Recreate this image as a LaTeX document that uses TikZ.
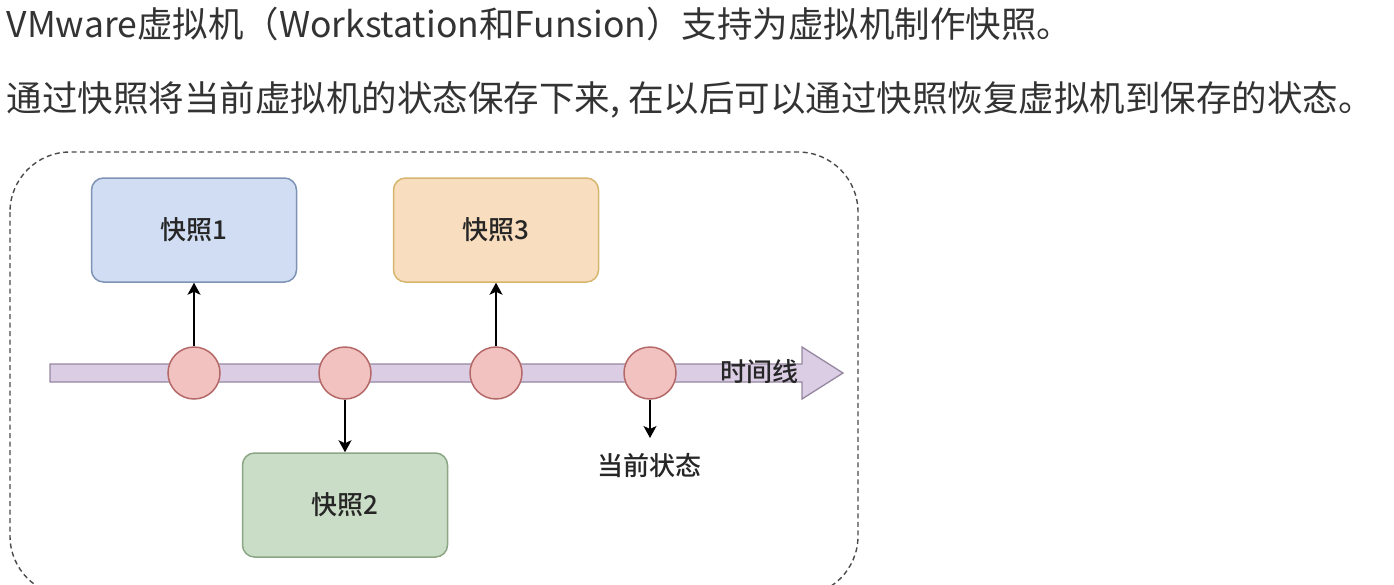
\documentclass[tikz,border=0pt]{standalone}
\usepackage{fontspec}
\setmainfont{Noto Sans CJK SC}
\newfontfamily\lblfont{Noto Sans CJK SC Medium}
\usetikzlibrary{arrows.meta}

\definecolor{framegray}{HTML}{4A4A4A}
\definecolor{barfill}{HTML}{DACDE4}
\definecolor{barline}{HTML}{9687A0}
\definecolor{pointfill}{HTML}{F2C2C0}
\definecolor{pointline}{HTML}{B46868}
\definecolor{bluefill}{HTML}{D0DDF2}
\definecolor{blueline}{HTML}{7F93B5}
\definecolor{greenfill}{HTML}{CADDC7}
\definecolor{greenline}{HTML}{8CA584}
\definecolor{orangefill}{HTML}{F8DDBE}
\definecolor{orangeline}{HTML}{D6B66E}

\begin{document}
\begin{tikzpicture}[x=1pt,y=-1pt,>={Stealth[length=12pt,width=13pt,inset=3pt]},line width=1.4pt,
  snapbox/.style={draw,rounded corners=12pt,minimum width=205pt,minimum height=104pt,
    font=\fontsize{26}{30}\lblfont,text=black!85,line width=1.5pt},
  point/.style={circle,draw=pointline,fill=pointfill,minimum size=52pt,inner sep=0pt,line width=1.5pt},
  lbl/.style={font=\fontsize{26}{30}\lblfont,text=black!85,inner sep=0pt},
  hdr/.style={anchor=west,inner sep=0pt,font=\fontsize{35.5}{42}\selectfont,text=black!80}]
  \useasboundingbox (0,0) rectangle (1394,584);
  \clip (0,0) rectangle (1394,584);

  % 标题文字
  \node[hdr] (t1) at (6,24) {VMware虚拟机（Workstation和Funsion）支持为虚拟机制作快照。};
  \node[hdr] (t2) at (6,100) {通过快照将当前虚拟机的状态保存下来, 在以后可以通过快照恢复虚拟机到保存的状态。};

  % 虚线外框
  \draw[framegray,dash pattern=on 5pt off 3.5pt,line width=1.4pt,rounded corners=60pt]
    (10,152) rectangle (858,596);

  % 时间线
  \draw[draw=barline,fill=barfill,line width=1.3pt]
    (50,364) -- (802,364) -- (802,347) -- (843,373) -- (802,399) -- (802,382) -- (50,382) -- cycle;
  \node[lbl] (tl) at (759,372) {时间线};

  % 时间点
  \node[point] (c1) at (194,373) {};
  \node[point] (c2) at (345,373) {};
  \node[point] (c3) at (496,373) {};
  \node[point] (c4) at (650,373) {};

  % 快照
  \node[snapbox,draw=blueline,fill=bluefill] (s1) at (194,230) {快照1};
  \node[snapbox,draw=greenline,fill=greenfill] (s2) at (345,505) {快照2};
  \node[snapbox,draw=orangeline,fill=orangefill] (s3) at (496,230) {快照3};

  \coordinate (cur) at (650,438);
  \node[lbl] (now) at (649,466) {当前状态};

  \draw[->] (c1) -- (s1);
  \draw[->] (c2) -- (s2);
  \draw[->] (c3) -- (s3);
  \draw[->] (c4) -- (cur);
\end{tikzpicture}
\end{document}
